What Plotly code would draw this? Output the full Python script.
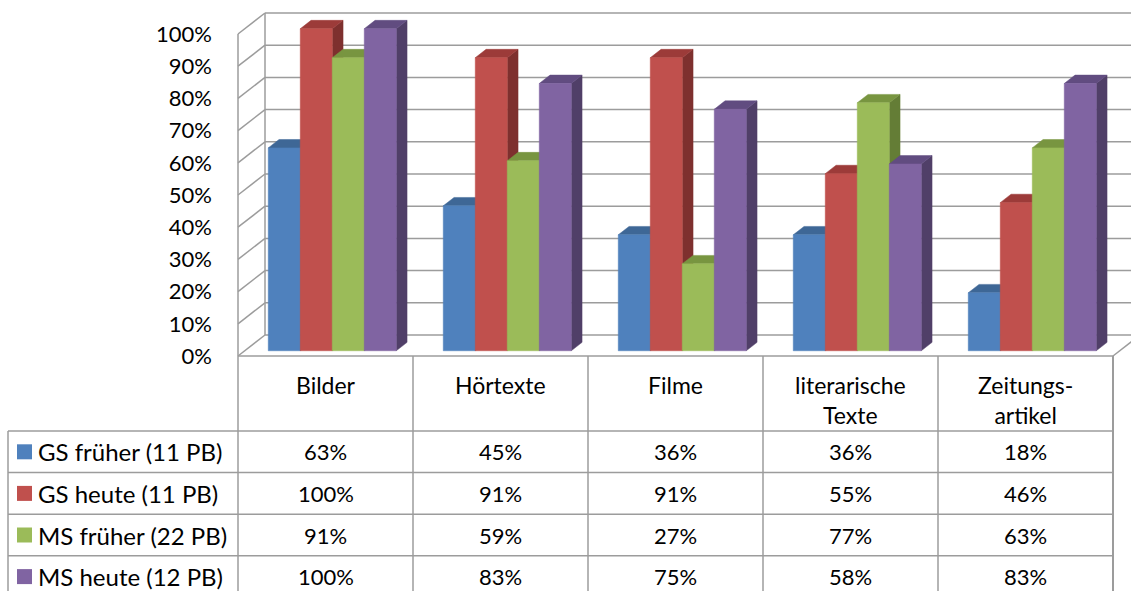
import plotly.graph_objects as go

# ---------------- data ----------------
categories = ["Bilder", "Hörtexte", "Filme", "literarische<br>Texte", "Zeitungs-<br>artikel"]
series_names = ["GS früher (11 PB)", "GS heute (11 PB)", "MS früher (22 PB)", "MS heute (12 PB)"]
gs_frueher = [63, 45, 36, 36, 18]
gs_heute = [100, 91, 91, 55, 46]
ms_frueher = [91, 59, 27, 77, 63]
ms_heute = [100, 83, 75, 58, 83]
series_values = [gs_frueher, gs_heute, ms_frueher, ms_heute]
y_ticks = [0, 10, 20, 30, 40, 50, 60, 70, 80, 90, 100]
y_tick_labels = [f"{v}%" for v in y_ticks]

front_colors = ["#4F81BD", "#C0504D", "#9BBB59", "#8064A2"]
top_colors = ["#3E6796", "#9C3B39", "#789540", "#614C80"]
side_colors = ["#365A85", "#7E302E", "#647D36", "#503F68"]

# ---------------- geometry (pixel layout) ----------------
W, H = 1131, 591
PLOT_L = 230          # left margin in px
X0_PX = 238           # px of front-left corner of the plot
CAT_PX = 175.0        # px per category
FLOOR_PX = 356.0      # px of the front floor (0 %)
PCT_PX = 3.22         # px per percent
FONT = "Lato"
FS_TXT = 24
FS_NUM = 22
GRID = "#9C9C9C"

x_range = [(PLOT_L - X0_PX) / CAT_PX, (W - X0_PX) / CAT_PX]
y_range = [(FLOOR_PX - H) / PCT_PX, FLOOR_PX / PCT_PX]

DXc = 27 / CAT_PX     # depth offset in x (category units)
DYv = 21 / PCT_PX     # depth offset in y (percent units)
F1, F2 = 0.25, 0.65   # bar depth start/end as fraction of floor depth
BAR_W = 32 / CAT_PX
GAP = (1 - 4 * BAR_W) / 2
ncat = len(categories)


def px_x(px):
    return (px - PLOT_L) / (W - PLOT_L)


def px_y(py):
    return (H - py) / H


def dy(py):
    return (FLOOR_PX - py) / PCT_PX


fig = go.Figure()

# ---------------- 3D bars ----------------
d = F2 - F1
for i in range(ncat):
    for j, vals in enumerate(series_values):
        v = vals[i]
        x0 = i + GAP + j * BAR_W + F1 * DXc
        x1 = x0 + BAR_W
        y0 = F1 * DYv
        y1 = y0 + v
        ox, oy = d * DXc, d * DYv
        faces = [
            ([x1, x1 + ox, x1 + ox, x1, x1], [y0, y0 + oy, y1 + oy, y1, y0], side_colors[j]),
            ([x0, x1, x1 + ox, x0 + ox, x0], [y1, y1, y1 + oy, y1 + oy, y1], top_colors[j]),
            ([x0, x1, x1, x0, x0], [y0, y0, y1, y1, y0], front_colors[j]),
        ]
        for fx, fy, col in faces:
            fig.add_trace(go.Scatter(
                x=fx, y=fy, mode="lines", fill="toself", fillcolor=col,
                line=dict(color=col, width=0.5), hoverinfo="skip", showlegend=False,
            ))

shapes = []
# ---------------- walls & gridlines ----------------
for v in y_ticks:
    shapes.append(dict(type="line", xref="x", yref="y", x0=0, y0=v, x1=DXc, y1=v + DYv,
                       line=dict(color=GRID, width=1.5), layer="below"))
    shapes.append(dict(type="line", xref="x", yref="y", x0=DXc, y0=v + DYv, x1=x_range[1] + 1, y1=v + DYv,
                       line=dict(color=GRID, width=1.5), layer="below"))
shapes.append(dict(type="line", xref="x", yref="y", x0=DXc, y0=DYv, x1=DXc, y1=100 + DYv,
                   line=dict(color=GRID, width=1.5), layer="below"))
# front left vertical (down through the table)
shapes.append(dict(type="line", xref="x", yref="y", x0=0, y0=100, x1=0, y1=y_range[0],
                   line=dict(color=GRID, width=1.5), layer="below"))
# floor front & right slant
shapes.append(dict(type="line", xref="x", yref="y", x0=0, y0=0, x1=ncat, y1=0,
                   line=dict(color=GRID, width=1.5), layer="below"))
shapes.append(dict(type="line", xref="x", yref="y", x0=ncat, y0=0, x1=ncat + DXc, y1=DYv,
                   line=dict(color=GRID, width=1.5), layer="below"))

# ---------------- data table ----------------
HEADER_BOTTOM = 431.0
ROW_H = 41.6
TABLE_L = 8
row_lines = [HEADER_BOTTOM + k * ROW_H for k in range(len(series_names) + 1)]
for py in row_lines:
    shapes.append(dict(type="line", xref="paper", yref="paper",
                       x0=px_x(TABLE_L), y0=px_y(py), x1=px_x(X0_PX + ncat * CAT_PX), y1=px_y(py),
                       line=dict(color=GRID, width=1.5)))
shapes.append(dict(type="line", xref="paper", yref="paper",
                   x0=px_x(TABLE_L), y0=px_y(HEADER_BOTTOM), x1=px_x(TABLE_L), y1=px_y(H + 5),
                   line=dict(color=GRID, width=1.5)))
for k in range(1, ncat + 1):
    shapes.append(dict(type="line", xref="x", yref="y", x0=k, y0=0, x1=k, y1=y_range[0],
                       line=dict(color=GRID, width=1.5 if k < ncat else 2), layer="below"))

annotations = []
for i, c in enumerate(categories):
    annotations.append(dict(xref="x", yref="y", x=i + 0.5, y=dy(369), text=c, showarrow=False,
                            xanchor="center", yanchor="top",
                            font=dict(family=FONT, size=FS_TXT - 1, color="black")))
for j, name in enumerate(series_names):
    cy = HEADER_BOTTOM + (j + 0.5) * ROW_H
    shapes.append(dict(type="rect", xref="paper", yref="paper",
                       x0=px_x(17), x1=px_x(32), y0=px_y(cy - 7.5), y1=px_y(cy + 7.5),
                       fillcolor=front_colors[j], line=dict(width=0)))
    annotations.append(dict(xref="paper", yref="paper", x=px_x(36), y=px_y(cy), text=name,
                            showarrow=False, xanchor="left", yanchor="middle",
                            font=dict(family=FONT, size=FS_TXT, color="black")))
    for i in range(ncat):
        annotations.append(dict(xref="x", yref="y", x=i + 0.5, y=dy(cy), text=f"{series_values[j][i]}%",
                                showarrow=False, xanchor="center", yanchor="middle",
                                font=dict(family=FONT, size=FS_NUM, color="black")))

fig.update_layout(
    width=W, height=H,
    margin=dict(l=PLOT_L, r=0, t=0, b=0),
    paper_bgcolor="white", plot_bgcolor="white",
    shapes=shapes, annotations=annotations, showlegend=False,
    xaxis=dict(range=x_range, visible=False, fixedrange=True),
    yaxis=dict(range=y_range, tickvals=y_ticks, ticktext=y_tick_labels, showgrid=False,
               zeroline=False, showline=False, ticks="", ticklabelstandoff=17,
               tickfont=dict(family=FONT, size=FS_NUM, color="black"), fixedrange=True),
)

fig.write_html("out.html")
